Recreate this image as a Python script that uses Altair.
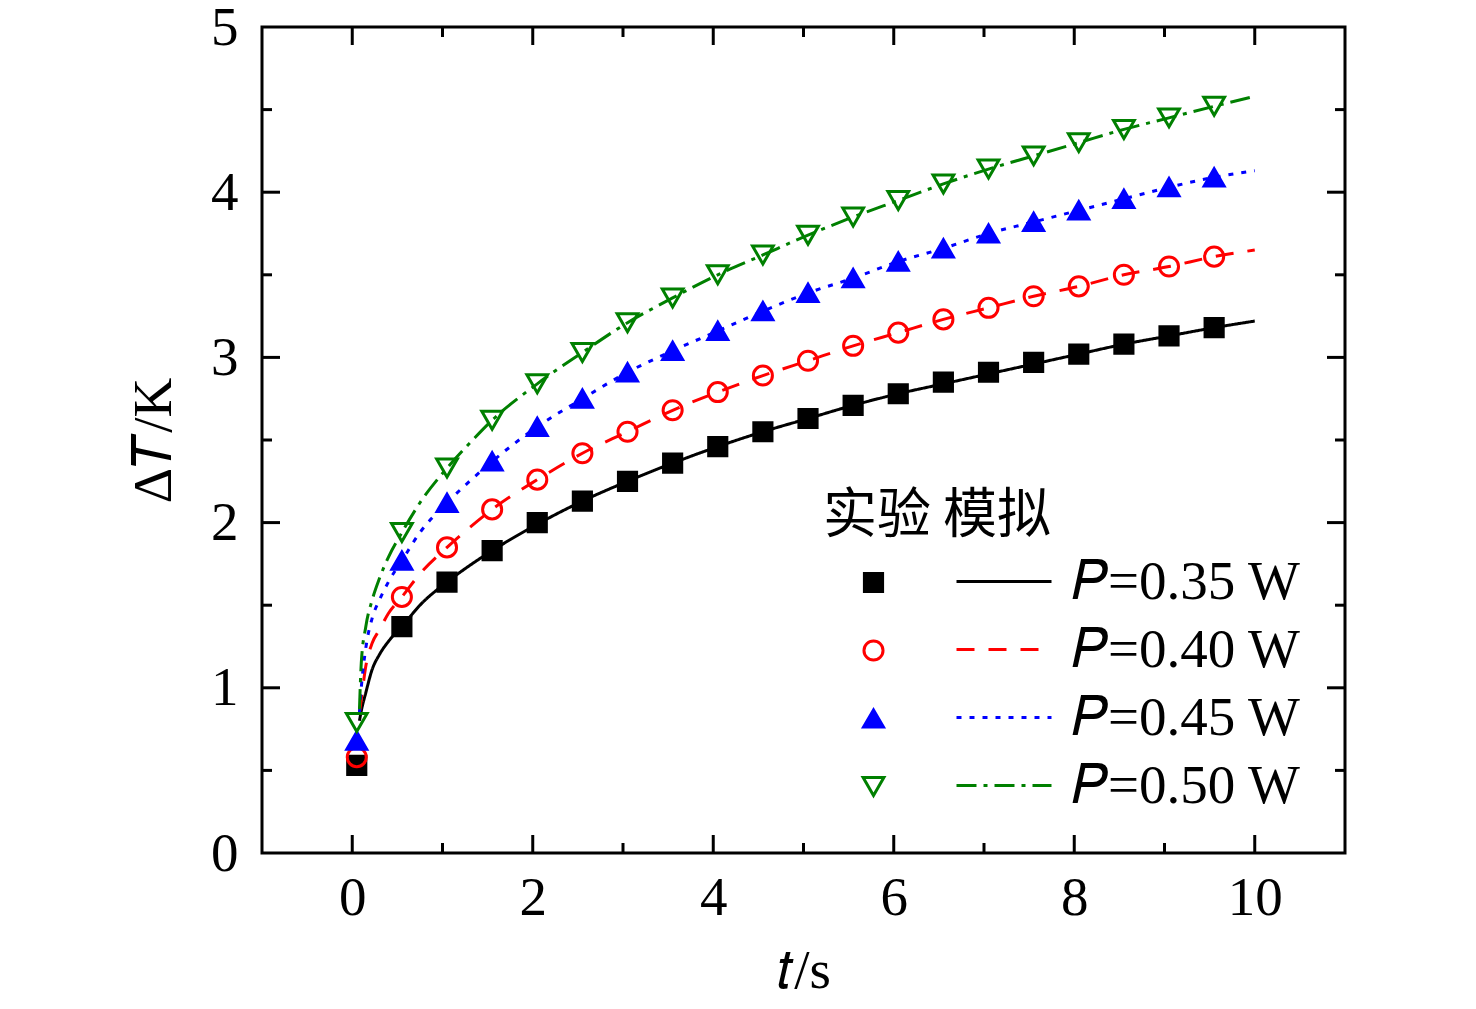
import altair as alt
import pandas as pd

# ---------------- data ----------------
series_exp = ["0.35 W", "0.40 W", "0.45 W", "0.50 W"]
series_sim = ["𝑃=0.35 W", "𝑃=0.40 W", "𝑃=0.45 W", "𝑃=0.50 W"]

t_exp = [0.05, 0.55, 1.05, 1.55, 2.05, 2.55, 3.05, 3.55, 4.05, 4.55,
         5.05, 5.55, 6.05, 6.55, 7.05, 7.55, 8.05, 8.55, 9.05, 9.55]
exp_035 = [0.53, 1.37, 1.64, 1.83, 2.00, 2.13, 2.25, 2.36, 2.46, 2.55,
           2.63, 2.71, 2.78, 2.85, 2.91, 2.97, 3.02, 3.08, 3.13, 3.18]
exp_040 = [0.58, 1.55, 1.85, 2.08, 2.26, 2.42, 2.55, 2.68, 2.79, 2.89,
           2.98, 3.07, 3.15, 3.23, 3.30, 3.37, 3.43, 3.50, 3.55, 3.61]
exp_045 = [0.68, 1.77, 2.12, 2.37, 2.58, 2.75, 2.91, 3.04, 3.16, 3.28,
           3.39, 3.48, 3.58, 3.66, 3.75, 3.82, 3.89, 3.96, 4.03, 4.09]
exp_050 = [0.79, 1.94, 2.33, 2.62, 2.84, 3.03, 3.21, 3.36, 3.50, 3.62,
           3.74, 3.85, 3.95, 4.05, 4.14, 4.22, 4.30, 4.38, 4.45, 4.52]

t_sim = [0.08, 0.1, 0.15, 0.22, 0.3, 0.4, 0.55, 0.75, 1.05, 1.3, 1.55,
         2.05, 2.55, 3.05, 3.55, 4.05, 4.55, 5.05, 5.55, 6.05, 6.55,
         7.05, 7.55, 8.05, 8.55, 9.05, 9.55, 10.0]
sim_035 = [0.80, 0.86, 0.97, 1.11, 1.20, 1.28, 1.37, 1.50, 1.64, 1.74, 1.83,
           1.99, 2.13, 2.25, 2.36, 2.46, 2.55, 2.63, 2.71, 2.78, 2.84,
           2.90, 2.96, 3.02, 3.08, 3.13, 3.18, 3.22]
sim_040 = [0.85, 0.93, 1.13, 1.27, 1.35, 1.45, 1.55, 1.69, 1.85, 1.97, 2.08,
           2.26, 2.42, 2.55, 2.68, 2.79, 2.89, 2.98, 3.07, 3.15, 3.23,
           3.30, 3.37, 3.43, 3.50, 3.55, 3.61, 3.65]
sim_045 = [0.85, 1.00, 1.24, 1.42, 1.53, 1.64, 1.77, 1.94, 2.12, 2.25, 2.37,
           2.58, 2.75, 2.91, 3.04, 3.16, 3.28, 3.39, 3.48, 3.58, 3.66,
           3.75, 3.82, 3.89, 3.96, 4.03, 4.09, 4.13]
sim_050 = [0.87, 1.15, 1.37, 1.53, 1.66, 1.79, 1.94, 2.12, 2.33, 2.48, 2.62,
           2.84, 3.03, 3.21, 3.36, 3.50, 3.62, 3.74, 3.85, 3.95, 4.05,
           4.14, 4.22, 4.30, 4.38, 4.45, 4.52, 4.58]

x_labels = [0, 2, 4, 6, 8, 10]
y_labels = [0, 1, 2, 3, 4, 5]
x_major = [0, 2, 4, 6, 8, 10]
x_minor = [1, 3, 5, 7, 9]
y_major = [1, 2, 3, 4]
y_minor = [0.5, 1.5, 2.5, 3.5, 4.5]

x_title = "𝑡/s"
y_title = "Δ𝑇/K"
legend_title = "实验 模拟"

# ---------------- styles ----------------
colors = ["#000000", "#FF0000", "#0000FF", "#008000"]
fills = ["#000000", "transparent", "#0000FF", "transparent"]
shapes = ["square", "circle", "triangle-up", "triangle-down"]
sizes = [330, 430, 1100, 1100]
dashes = [[1, 0], [18, 14], [5, 8], [20, 7, 4, 7]]

W, H = 1083, 826
FONT = "Liberation Serif"
FS = 55

# ---------------- tables ----------------
exp_df = pd.concat([
    pd.DataFrame({"t": t_exp, "dT": v, "exp": s})
    for v, s in zip([exp_035, exp_040, exp_045, exp_050], series_exp)
])
sim_df = pd.concat([
    pd.DataFrame({"t": t_sim, "dT": v, "sim": s})
    for v, s in zip([sim_035, sim_040, sim_045, sim_050], series_sim)
])

xscale = alt.Scale(domain=[-1, 11], nice=False, zero=False)
yscale = alt.Scale(domain=[0, 5], nice=False, zero=False)

x_axis = alt.Axis(values=x_labels, ticks=False, domain=False, grid=False,
                  labelFont=FONT, labelFontSize=FS, labelColor="black",
                  labelPadding=18, title=x_title, titleFont=FONT,
                  titleFontSize=FS, titleFontWeight="normal",
                  titleColor="black", titlePadding=19, labelFlush=False)
y_axis = alt.Axis(values=y_labels, ticks=False, domain=False, grid=False,
                  labelFont=FONT, labelFontSize=FS, labelColor="black",
                  labelPadding=24, title=y_title, titleFont=FONT,
                  titleFontSize=FS, titleFontWeight="normal",
                  titleColor="black", titlePadding=28, labelFlush=False)

leg_exp = alt.Legend(orient="none", legendX=561, legendY=463, padding=0,
                     title=legend_title, titleFont="Noto Sans CJK SC",
                     titleFontSize=54, titleFontWeight="normal",
                     titleColor="black", titlePadding=11, titleLimit=600,
                     symbolOffset=23, symbolStrokeWidth=3,
                     labelFont=FONT, labelFontSize=FS, labelOpacity=0,
                     labelLimit=600, rowPadding=12)
leg_sim = alt.Legend(orient="none", legendX=693, legendY=527, padding=0,
                     title=None, symbolType="stroke", symbolSize=9025,
                     symbolStrokeWidth=3, labelFont=FONT, labelFontSize=FS,
                     labelColor="black", labelOffset=19, labelLimit=600,
                     clipHeight=55, rowPadding=12)

lines = alt.Chart(sim_df).mark_line(strokeWidth=3, interpolate="monotone").encode(
    x=alt.X("t:Q", scale=xscale, axis=x_axis),
    y=alt.Y("dT:Q", scale=yscale, axis=y_axis),
    color=alt.Color("sim:N", scale=alt.Scale(domain=series_sim, range=colors), legend=leg_sim),
    strokeDash=alt.StrokeDash("sim:N", scale=alt.Scale(domain=series_sim, range=dashes), legend=leg_sim),
)

points = alt.Chart(exp_df).mark_point(opacity=1, strokeWidth=3).encode(
    x=alt.X("t:Q", scale=xscale, axis=x_axis),
    y=alt.Y("dT:Q", scale=yscale, axis=y_axis),
    shape=alt.Shape("exp:N", scale=alt.Scale(domain=series_exp, range=shapes), legend=leg_exp),
    fill=alt.Fill("exp:N", scale=alt.Scale(domain=series_exp, range=fills), legend=leg_exp),
    stroke=alt.Stroke("exp:N", scale=alt.Scale(domain=series_exp, range=colors), legend=leg_exp),
    size=alt.Size("exp:N", scale=alt.Scale(domain=series_exp, range=sizes), legend=leg_exp),
)


def xticks(vals, y0, y1):
    return alt.Chart(pd.DataFrame({"v": vals})).mark_rule(color="black", strokeWidth=3).encode(
        x=alt.X("v:Q", scale=xscale, axis=x_axis), y=alt.value(y0), y2=alt.value(y1))


def yticks(vals, x0, x1):
    return alt.Chart(pd.DataFrame({"v": vals})).mark_rule(color="black", strokeWidth=3).encode(
        y=alt.Y("v:Q", scale=yscale, axis=y_axis), x=alt.value(x0), x2=alt.value(x1))


ticks = [
    xticks(x_major, H, H - 18), xticks(x_minor, H, H - 10),
    xticks(x_major, 0, 18), xticks(x_minor, 0, 10),
    yticks(y_major, 0, 18), yticks(y_minor, 0, 10),
    yticks(y_major, W, W - 18), yticks(y_minor, W, W - 10),
]

chart = alt.layer(lines, points, *ticks).properties(
    width=W, height=H,
    autosize=alt.AutoSizeParams(type="none"),
    padding={"left": 254, "top": 19, "right": 100, "bottom": 148},
).configure(font=FONT).configure_view(stroke="black", strokeWidth=3)

chart.save("out.html", embed_options={"renderer": "svg", "actions": False})
